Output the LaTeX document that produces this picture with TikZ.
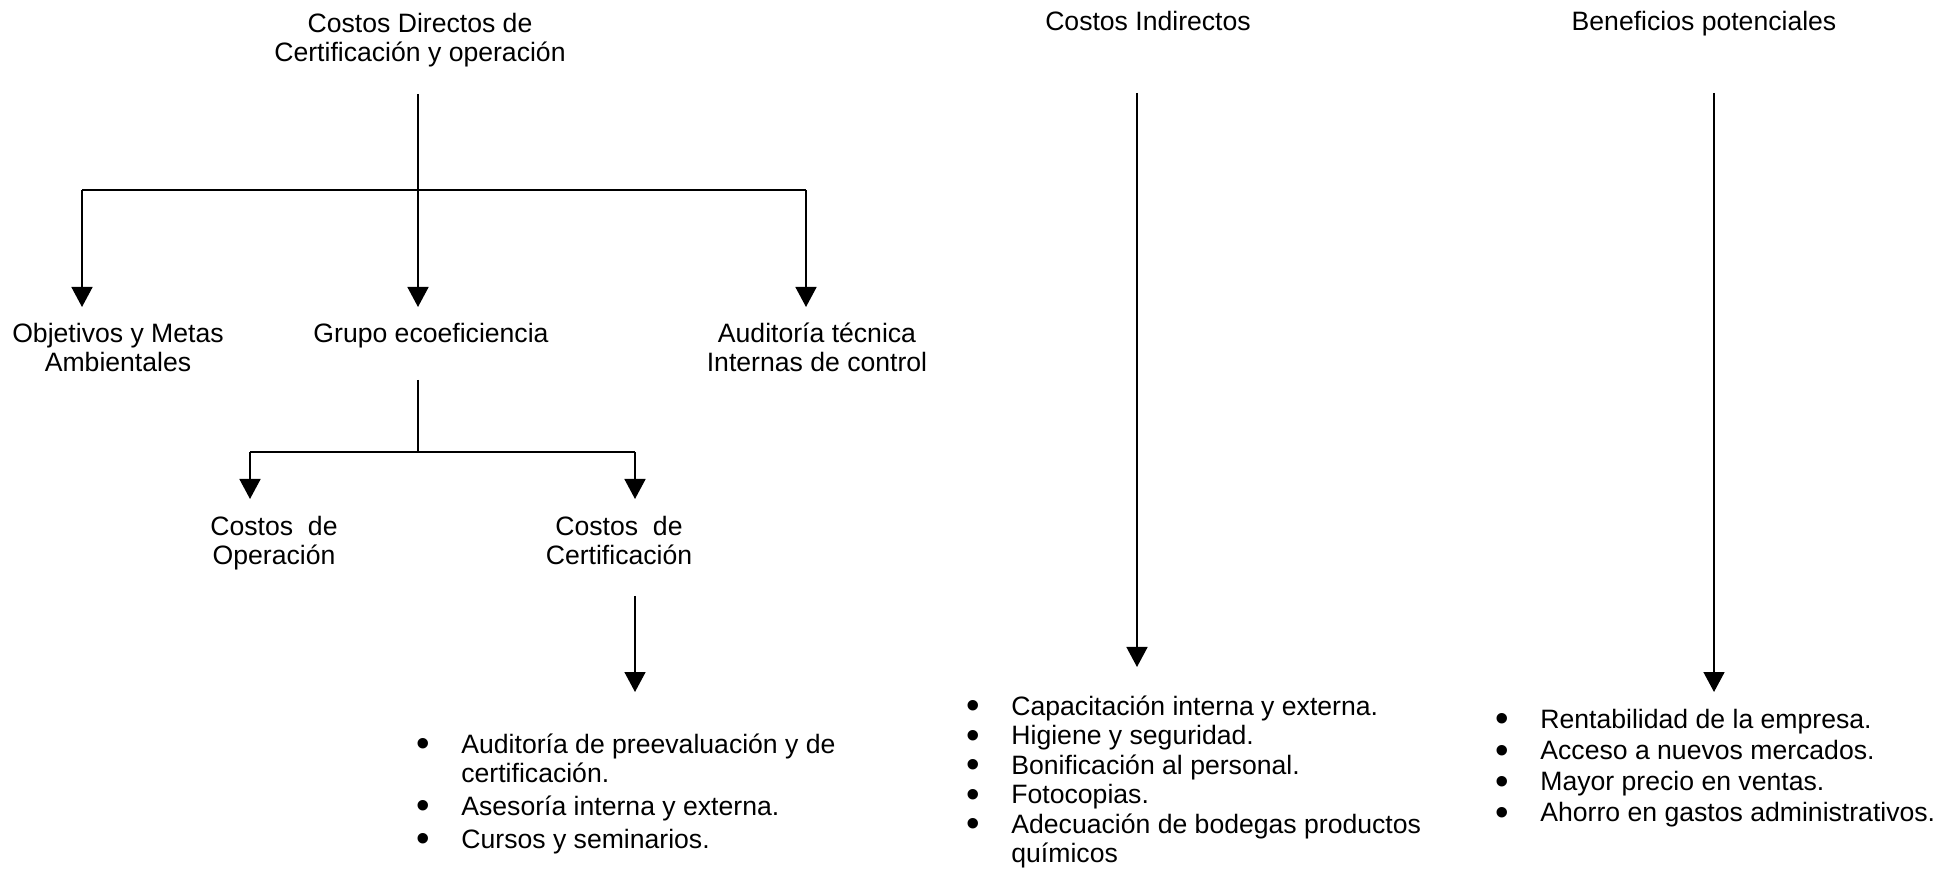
\documentclass[tikz,border=0pt]{standalone}
\usepackage{fontspec}
\usepackage{graphicx}
\setmainfont{Liberation Sans}
\usetikzlibrary{arrows.meta}

\tikzset{
  lbl/.style={align=center,anchor=base,inner sep=0pt,font=\fontsize{13.3pt}{14.5pt}\selectfont},
  itm/.style={anchor=base west,inner sep=0pt,font=\fontsize{13.3pt}{14.5pt}\selectfont},
  stem/.style={line width=0.8pt},
  bar/.style={line width=1.3pt},
  arr/.style={line width=0.8pt,-{Triangle[width=10.5pt,length=10pt]}},
}
\newcommand{\bul}{\makebox[22.5pt][l]{\raisebox{-0.14em}{\scalebox{1.45}{\textbullet}}}}

\begin{document}
\begin{tikzpicture}[x=0.5pt,y=-0.5pt]
	\useasboundingbox (0,0) rectangle (1958,870);

	% headings (base = last line)
	\node[lbl] (dir) at (420,62) {Costos Directos de\\Certificación y operación};
	\node[lbl] (ind) at (1148,31) {Costos Indirectos};
	\node[lbl] (ben) at (1704,31) {Beneficios potenciales};

	\node[lbl] (obj) at (118,372) {Objetivos y Metas\\Ambientales};
	\node[lbl] (gru) at (431,343) {Grupo ecoeficiencia};
	\node[lbl] (aud) at (817,372) {Auditoría técnica\\Internas de control};

	\node[lbl] (ope) at (274,565) {Costos\ \ de\\Operación};
	\node[lbl] (cer) at (619,565) {Costos\ \ de\\Certificación};

	% lists
	\node[itm] (cer-1) at (416,753) {\bul Auditoría de preevaluación y de};
	\node[itm] (cer-1b) at (461,782) {certificación.};
	\node[itm] (cer-2) at (416,815) {\bul Asesoría interna y externa.};
	\node[itm] (cer-3) at (416,848) {\bul Cursos y seminarios.};

	\foreach \t [count=\i] in {Capacitación interna y externa., Higiene y seguridad.,
		Bonificación al personal., Fotocopias., Adecuación de bodegas productos}
		\node[itm] (ind-\i) at (966,{715+29.5*(\i-1)}) {\bul \t};
	\node[itm] (ind-5b) at (1011,862.5) {químicos};

	\foreach \t [count=\i] in {Rentabilidad de la empresa., Acceso a nuevos mercados.,
		Mayor precio en ventas., Ahorro en gastos administrativos.}
		\node[itm] (ben-\i) at (1495,{728+31.3*(\i-1)}) {\bul \t};

	% junctions
	\coordinate (dir-s) at (418,94);
	\coordinate (dir-j) at (418,190);
	\coordinate (bar-l) at (82,190);
	\coordinate (bar-r) at (806,190);
	\coordinate (obj-t) at (82,307);
	\coordinate (gru-t) at (418,307);
	\coordinate (aud-t) at (806,307);

	\coordinate (gru-s) at (418,380);
	\coordinate (gru-j) at (418,452);
	\coordinate (sub-l) at (250,452);
	\coordinate (sub-r) at (635,452);
	\coordinate (ope-t) at (250,499);
	\coordinate (cer-t) at (635,499);
	\coordinate (cer-s) at (635,596);
	\coordinate (cer-b) at (635,692);

	\coordinate (ind-s) at (1137,93);
	\coordinate (ind-b) at (1137,667);
	\coordinate (ben-s) at (1714,93);
	\coordinate (ben-b) at (1714,692);

	% connectors
	\draw[stem] (dir-s) -- (dir-j);
	\draw[bar] (bar-l) -- (bar-r);
	\draw[stem] (gru-s) -- (gru-j);
	\draw[stem] (sub-l) -- (sub-r);
	\foreach \a/\b in {bar-l/obj-t,dir-j/gru-t,bar-r/aud-t,sub-l/ope-t,sub-r/cer-t,
		cer-s/cer-b,ind-s/ind-b,ben-s/ben-b}
		\draw[arr] (\a) -- (\b);
\end{tikzpicture}
\end{document}
